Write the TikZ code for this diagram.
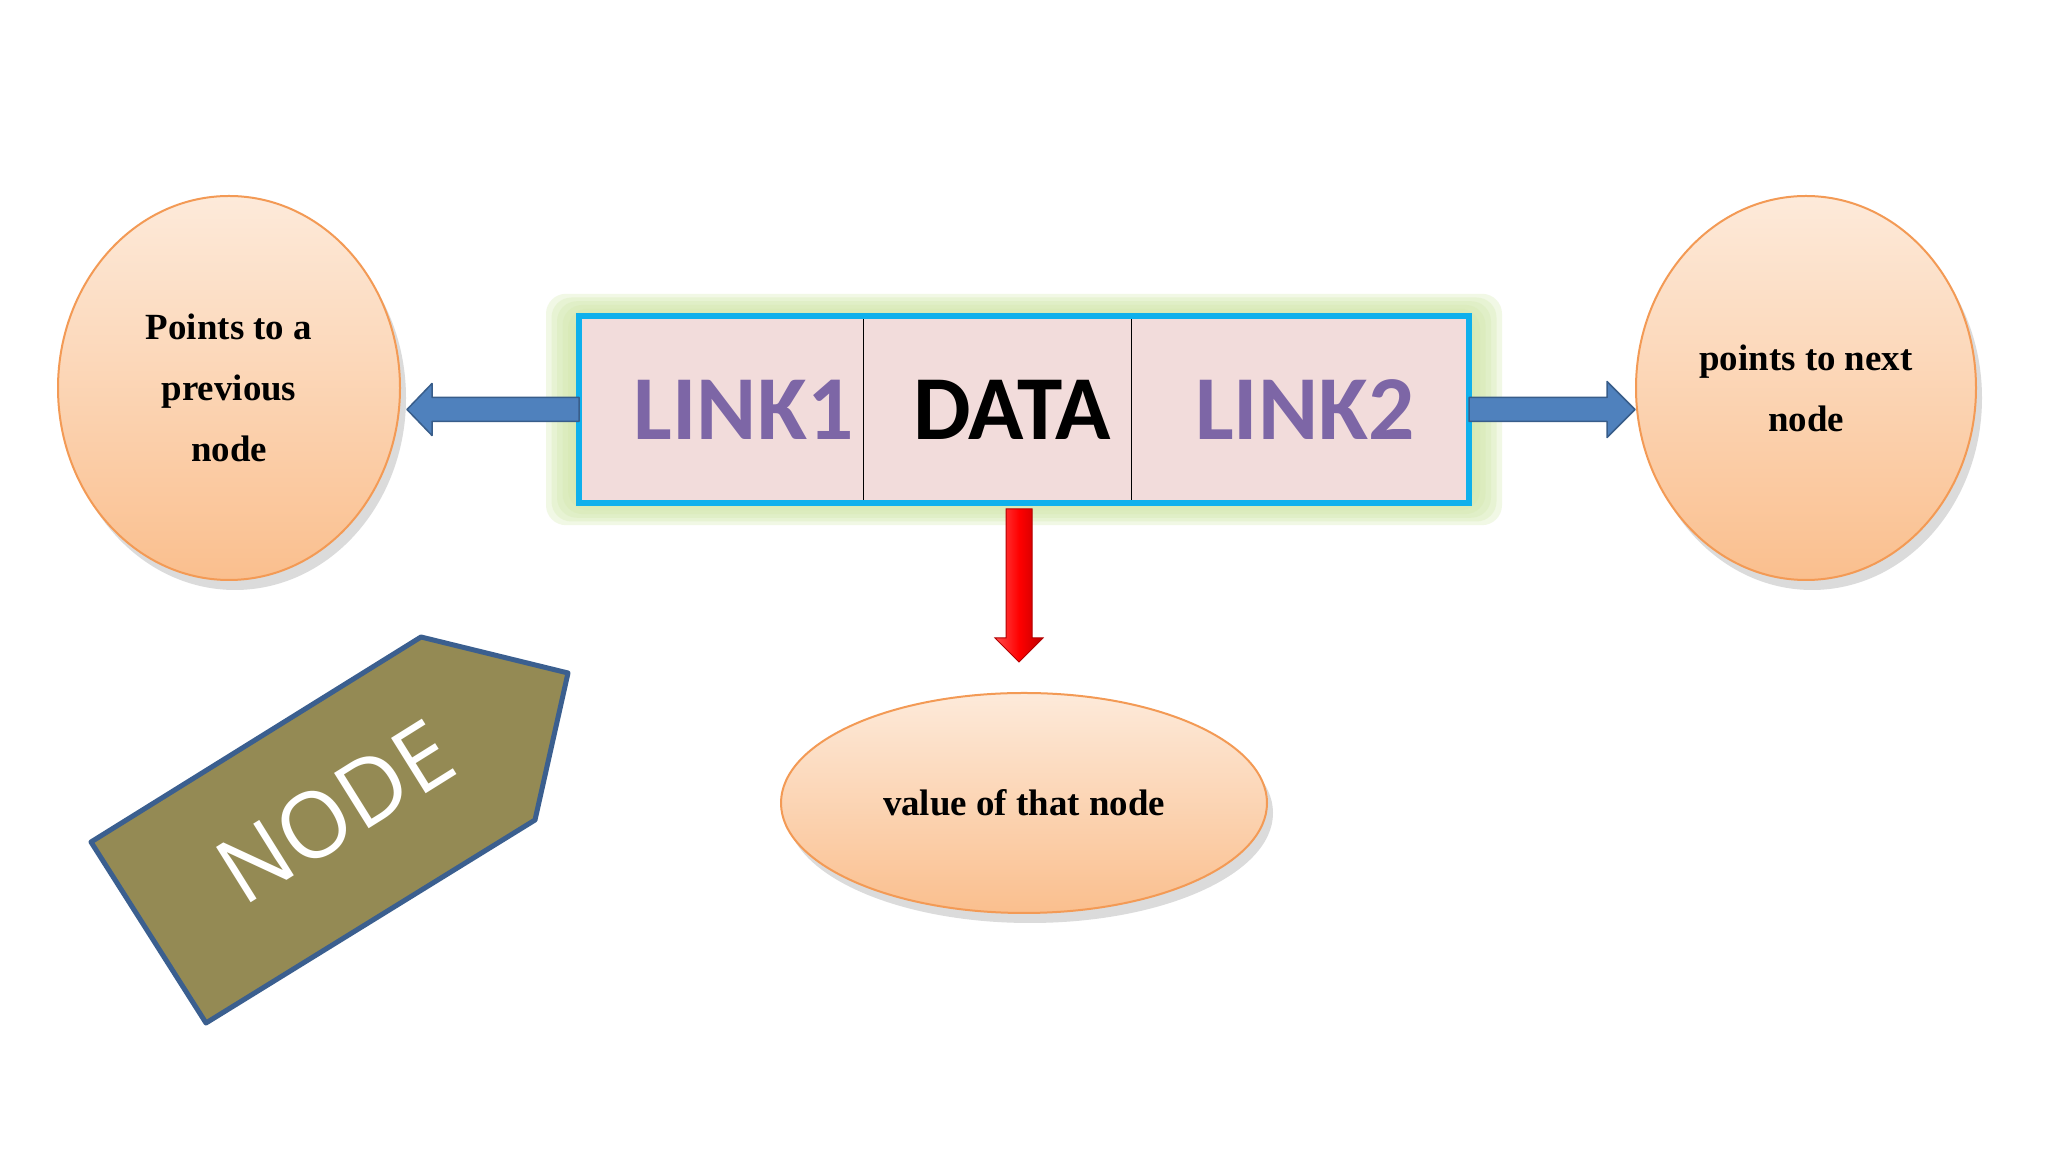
\documentclass[tikz,border=0pt]{standalone}
\usepackage{fontspec}
\setmainfont{Liberation Serif}
\newfontfamily\cellfont{Carlito}
\newfontfamily\tagfont{Open Sans}
\usetikzlibrary{positioning,calc,shapes.geometric,shadows,backgrounds}
\definecolor{peachtop}{HTML}{FDEADA}
\definecolor{peachbot}{HTML}{FABF8E}
\definecolor{peachline}{HTML}{F39A55}
\definecolor{cellpink}{HTML}{F2DCDB}
\definecolor{cellline}{HTML}{0FB0EC}
\definecolor{glowgreen}{HTML}{D3E8AC}
\definecolor{linkpurple}{HTML}{7D66A6}
\definecolor{arrowblue}{HTML}{4F81BD}
\definecolor{arrowline}{HTML}{385D8A}
\definecolor{tagolive}{HTML}{948A54}
\definecolor{tagline}{HTML}{3B5F8F}

\begin{document}
\begin{tikzpicture}[x=0.1mm,y=-0.1mm,
main/.style = {ellipse, draw=peachline, line width=0.2mm, top color=peachtop, bottom color=peachbot, inner sep=0pt, align=center, font=\fontsize{10.5}{17.3}\selectfont\bfseries, drop shadow={shadow xshift=0.6mm, shadow yshift=-1mm, fill=black!35, opacity=.4}},
cell/.style = {draw=black, line width=0.1mm, fill=cellpink, minimum height=18.7mm, inner sep=0pt, outer sep=0pt, font=\cellfont\fontsize{26}{26}\selectfont\bfseries},
barrow/.style = {draw=arrowline, line width=0.15mm, fill=arrowblue, line join=round},
rarrow/.style = {draw=red!70!black, line width=0.1mm, left color=red!70!white, right color=red!75!black, middle color=red},
tag/.style = {draw=tagline, line width=0.5mm, fill=tagolive, line join=round}]
\useasboundingbox (0,0) rectangle (2048,1152);
\node[cell, minimum width=28.4mm, text=linkpurple] (1) at (721,409.5) {\hspace{4.5mm}LINK1};
\node[cell, minimum width=26.8mm] (2) [right=0pt of 1] {\hspace{3mm}DATA};
\node[cell, minimum width=33.8mm, text=linkpurple] (3) [right=0pt of 2] {\hspace{1mm}LINK2};
\draw[cellline, line width=0.55mm] (1.north west) rectangle (3.south east);
\begin{scope}[on background layer]
\fill[white] (0,0) rectangle (2048,1152);
\foreach \g in {6,...,1}
  \fill[glowgreen, opacity=.3, rounded corners=2mm] ($(1.north west)+({-5.5*\g},{-3.7*\g})$) rectangle ($(3.south east)+({5.5*\g},{3.7*\g})$);
\end{scope}
\node[main, minimum width=34.2mm, minimum height=38.4mm] (4) [left=17.8mm of 1, yshift=2.15mm] {Points to a\\previous\\node};
\node[main, minimum width=34mm, minimum height=38.4mm] (5) [right=16.6mm of 3, yshift=2.15mm] {points to next\\node};
\node[main, minimum width=48.6mm, minimum height=22mm] (6) [below=18.9mm of 2, xshift=2.7mm] {value of that node};
\coordinate (lt) at ($(1.west -| 4.east)+(6,0)$);
\coordinate (nt) at (3.east -| 5.west);
\coordinate (rs) at ($(2.south -| 6.north)+(-5,6)$);
\coordinate (rt) at ($(6.north)+(-5,-30)$);
\draw[barrow] ($(1.west)+(0,-12)$) -- ($(lt)+(25,-12)$) -- ($(lt)+(25,-26)$) -- (lt) -- ($(lt)+(25,26)$) -- ($(lt)+(25,12)$) -- ($(1.west)+(0,12)$) -- cycle;
\draw[barrow] ($(3.east)+(0,-12)$) -- ($(nt)+(-28,-12)$) -- ($(nt)+(-28,-28)$) -- (nt) -- ($(nt)+(-28,28)$) -- ($(nt)+(-28,12)$) -- ($(3.east)+(0,12)$) -- cycle;
\draw[rarrow] ($(rs)+(-13,0)$) -- ($(rt)+(-13,-24)$) -- ($(rt)+(-24,-24)$) -- (rt) -- ($(rt)+(24,-24)$) -- ($(rt)+(13,-24)$) -- ($(rs)+(13,0)$) -- cycle;
\draw[tag] (91,842) -- (421,637) -- (568,673) -- (535,820) -- (206,1023) -- cycle;
\node[rotate=32, text=white, font=\tagfont\fontsize{26}{26}\selectfont] (7) at (335,812) {NODE};
\end{tikzpicture}
\end{document}
